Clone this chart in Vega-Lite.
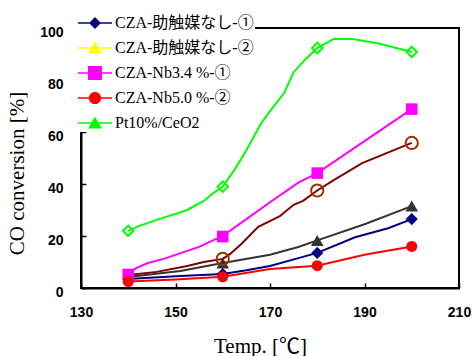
{
  "$schema": "https://vega.github.io/schema/vega-lite/v6.json",
  "width": 378,
  "height": 260,
  "autosize": {"type": "none"},
  "padding": {"left": 81, "top": 28, "right": 13, "bottom": 68},
  "background": "white",
  "datasets": {
    "lines": [
      {"s": "Pt10%/CeO2", "t": 140, "v": 22},
      {"s": "Pt10%/CeO2", "t": 142.5, "v": 24},
      {"s": "Pt10%/CeO2", "t": 146.5, "v": 26.5},
      {"s": "Pt10%/CeO2", "t": 150, "v": 28.5},
      {"s": "Pt10%/CeO2", "t": 152.5, "v": 30},
      {"s": "Pt10%/CeO2", "t": 156, "v": 33.5},
      {"s": "Pt10%/CeO2", "t": 158, "v": 36.5},
      {"s": "Pt10%/CeO2", "t": 160, "v": 39},
      {"s": "Pt10%/CeO2", "t": 162.5, "v": 45.5},
      {"s": "Pt10%/CeO2", "t": 165, "v": 53},
      {"s": "Pt10%/CeO2", "t": 168, "v": 63},
      {"s": "Pt10%/CeO2", "t": 170, "v": 68},
      {"s": "Pt10%/CeO2", "t": 173, "v": 75},
      {"s": "Pt10%/CeO2", "t": 175, "v": 83},
      {"s": "Pt10%/CeO2", "t": 177.5, "v": 88},
      {"s": "Pt10%/CeO2", "t": 180, "v": 92.3},
      {"s": "Pt10%/CeO2", "t": 183.5, "v": 95.8},
      {"s": "Pt10%/CeO2", "t": 187.5, "v": 95.8},
      {"s": "Pt10%/CeO2", "t": 193, "v": 94},
      {"s": "Pt10%/CeO2", "t": 200, "v": 90.8},
      {"s": "CZA-Nb3.4 %-①", "t": 140, "v": 5},
      {"s": "CZA-Nb3.4 %-①", "t": 141.5, "v": 7.5},
      {"s": "CZA-Nb3.4 %-①", "t": 144, "v": 9.5},
      {"s": "CZA-Nb3.4 %-①", "t": 148, "v": 11.5},
      {"s": "CZA-Nb3.4 %-①", "t": 152, "v": 14},
      {"s": "CZA-Nb3.4 %-①", "t": 155, "v": 15.8},
      {"s": "CZA-Nb3.4 %-①", "t": 160, "v": 20},
      {"s": "CZA-Nb3.4 %-①", "t": 165, "v": 26.5},
      {"s": "CZA-Nb3.4 %-①", "t": 170, "v": 33},
      {"s": "CZA-Nb3.4 %-①", "t": 176, "v": 40.5},
      {"s": "CZA-Nb3.4 %-①", "t": 180, "v": 44.2},
      {"s": "CZA-Nb3.4 %-①", "t": 200, "v": 68.8},
      {"s": "CZA-Nb3.4 %-②", "t": 140, "v": 5},
      {"s": "CZA-Nb3.4 %-②", "t": 146, "v": 6.2},
      {"s": "CZA-Nb3.4 %-②", "t": 152.5, "v": 8.5},
      {"s": "CZA-Nb3.4 %-②", "t": 156, "v": 10},
      {"s": "CZA-Nb3.4 %-②", "t": 160, "v": 11.2},
      {"s": "CZA-Nb3.4 %-②", "t": 161.5, "v": 13},
      {"s": "CZA-Nb3.4 %-②", "t": 164, "v": 17},
      {"s": "CZA-Nb3.4 %-②", "t": 167.5, "v": 23.5},
      {"s": "CZA-Nb3.4 %-②", "t": 172, "v": 27.5},
      {"s": "CZA-Nb3.4 %-②", "t": 175, "v": 32},
      {"s": "CZA-Nb3.4 %-②", "t": 177, "v": 33.5},
      {"s": "CZA-Nb3.4 %-②", "t": 180, "v": 37.5},
      {"s": "CZA-Nb3.4 %-②", "t": 183.5, "v": 41.5},
      {"s": "CZA-Nb3.4 %-②", "t": 189.5, "v": 48},
      {"s": "CZA-Nb3.4 %-②", "t": 193.5, "v": 51},
      {"s": "CZA-Nb3.4 %-②", "t": 200, "v": 55.8},
      {"s": "CZA-助触媒なし-②", "t": 140, "v": 4.2},
      {"s": "CZA-助触媒なし-②", "t": 151, "v": 6.5},
      {"s": "CZA-助触媒なし-②", "t": 160, "v": 9.6},
      {"s": "CZA-助触媒なし-②", "t": 170, "v": 12.8},
      {"s": "CZA-助触媒なし-②", "t": 176, "v": 15.8},
      {"s": "CZA-助触媒なし-②", "t": 180, "v": 18.3},
      {"s": "CZA-助触媒なし-②", "t": 190, "v": 24.5},
      {"s": "CZA-助触媒なし-②", "t": 200, "v": 31.5},
      {"s": "CZA-助触媒なし-①", "t": 140, "v": 3.5},
      {"s": "CZA-助触媒なし-①", "t": 150, "v": 4.5},
      {"s": "CZA-助触媒なし-①", "t": 160, "v": 5.4},
      {"s": "CZA-助触媒なし-①", "t": 165, "v": 6.8},
      {"s": "CZA-助触媒なし-①", "t": 170, "v": 8.5},
      {"s": "CZA-助触媒なし-①", "t": 176, "v": 11.5},
      {"s": "CZA-助触媒なし-①", "t": 180, "v": 13.5},
      {"s": "CZA-助触媒なし-①", "t": 188, "v": 19.5},
      {"s": "CZA-助触媒なし-①", "t": 195, "v": 23},
      {"s": "CZA-助触媒なし-①", "t": 200, "v": 26.5},
      {"s": "CZA-Nb5.0 %-②", "t": 140, "v": 2.5},
      {"s": "CZA-Nb5.0 %-②", "t": 150, "v": 3.3},
      {"s": "CZA-Nb5.0 %-②", "t": 160, "v": 4.3},
      {"s": "CZA-Nb5.0 %-②", "t": 170, "v": 7.3},
      {"s": "CZA-Nb5.0 %-②", "t": 180, "v": 8.6},
      {"s": "CZA-Nb5.0 %-②", "t": 190, "v": 12.8},
      {"s": "CZA-Nb5.0 %-②", "t": 200, "v": 16}
    ],
    "filledMarkers": [
      {"s": "CZA-助触媒なし-②", "t": 160, "v": 9.6},
      {"s": "CZA-助触媒なし-②", "t": 180, "v": 18.3},
      {"s": "CZA-助触媒なし-②", "t": 200, "v": 31.5},
      {"s": "CZA-助触媒なし-①", "t": 140, "v": 3.5},
      {"s": "CZA-助触媒なし-①", "t": 160, "v": 5.4},
      {"s": "CZA-助触媒なし-①", "t": 180, "v": 13.5},
      {"s": "CZA-助触媒なし-①", "t": 200, "v": 26.5},
      {"s": "CZA-Nb3.4 %-①", "t": 140, "v": 5.2},
      {"s": "CZA-Nb3.4 %-①", "t": 160, "v": 19.8},
      {"s": "CZA-Nb3.4 %-①", "t": 180, "v": 44.2},
      {"s": "CZA-Nb3.4 %-①", "t": 200, "v": 68.8},
      {"s": "CZA-Nb5.0 %-②", "t": 140, "v": 2.5},
      {"s": "CZA-Nb5.0 %-②", "t": 160, "v": 4.3},
      {"s": "CZA-Nb5.0 %-②", "t": 180, "v": 8.6},
      {"s": "CZA-Nb5.0 %-②", "t": 200, "v": 16}
    ],
    "openMarkers": [
      {"s": "CZA-Nb3.4 %-②", "t": 160, "v": 11.2},
      {"s": "CZA-Nb3.4 %-②", "t": 180, "v": 37.5},
      {"s": "CZA-Nb3.4 %-②", "t": 200, "v": 55.8},
      {"s": "Pt10%/CeO2", "t": 140, "v": 22},
      {"s": "Pt10%/CeO2", "t": 160, "v": 39},
      {"s": "Pt10%/CeO2", "t": 180, "v": 92.3},
      {"s": "Pt10%/CeO2", "t": 200, "v": 90.8}
    ],
    "legendEntries": [
      {"e": "CZA-助触媒なし-①"},
      {"e": "CZA-助触媒なし-②"},
      {"e": "CZA-Nb3.4 %-①"},
      {"e": "CZA-Nb5.0 %-②"},
      {"e": "Pt10%/CeO2"}
    ]
  },
  "layer": [
    {
      "data": {"name": "lines"},
      "mark": {"type": "line", "strokeWidth": 2},
      "encoding": {
        "x": {"field": "t", "type": "quantitative", "title": "Temp. [℃]", "scale": {"domain": [130, 210], "nice": false, "zero": false}, "axis": {"values": [130, 150, 170, 190, 210], "titleX": 179}},
        "y": {"field": "v", "type": "quantitative", "title": "CO conversion [%]", "scale": {"domain": [0, 100], "nice": false}, "axis": {"values": [0, 20, 40, 60, 80, 100], "titleY": 145}},
        "color": {"field": "s", "type": "nominal", "legend": null,
          "scale": {"domain": ["CZA-助触媒なし-①", "CZA-助触媒なし-②", "CZA-Nb3.4 %-①", "CZA-Nb3.4 %-②", "CZA-Nb5.0 %-②", "Pt10%/CeO2"],
                    "range": ["#000080", "#333333", "#FF00FF", "#800000", "#FF0000", "#00FF00"]}}
      }
    },
    {
      "data": {"name": "filledMarkers"},
      "mark": {"type": "point", "filled": true, "opacity": 1},
      "encoding": {
        "x": {"field": "t", "type": "quantitative", "title": "Temp. [℃]", "scale": {"domain": [130, 210], "nice": false, "zero": false}, "axis": {"values": [130, 150, 170, 190, 210], "titleX": 179}},
        "y": {"field": "v", "type": "quantitative", "title": "CO conversion [%]", "scale": {"domain": [0, 100], "nice": false}, "axis": {"values": [0, 20, 40, 60, 80, 100], "titleY": 145}},
        "color": {"field": "s", "type": "nominal", "legend": null,
          "scale": {"domain": ["CZA-助触媒なし-②", "CZA-助触媒なし-①", "CZA-Nb3.4 %-①", "CZA-Nb5.0 %-②"],
                    "range": ["#333333", "#000080", "#FF00FF", "#FF0000"]}},
        "shape": {"field": "s", "type": "nominal", "legend": null,
          "scale": {"domain": ["CZA-助触媒なし-②", "CZA-助触媒なし-①", "CZA-Nb3.4 %-①", "CZA-Nb5.0 %-②"],
                    "range": ["triangle-up", "diamond", "square", "circle"]}},
        "size": {"field": "s", "type": "ordinal", "legend": null,
          "scale": {"domain": ["CZA-助触媒なし-②", "CZA-助触媒なし-①", "CZA-Nb3.4 %-①", "CZA-Nb5.0 %-②"],
                    "range": [160, 121, 196, 165]}}
      }
    },
    {
      "data": {"name": "openMarkers"},
      "mark": {"type": "point", "filled": false, "strokeWidth": 2, "opacity": 1},
      "encoding": {
        "x": {"field": "t", "type": "quantitative", "title": "Temp. [℃]", "scale": {"domain": [130, 210], "nice": false, "zero": false}, "axis": {"values": [130, 150, 170, 190, 210], "titleX": 179}},
        "y": {"field": "v", "type": "quantitative", "title": "CO conversion [%]", "scale": {"domain": [0, 100], "nice": false}, "axis": {"values": [0, 20, 40, 60, 80, 100], "titleY": 145}},
        "color": {"field": "s", "type": "nominal", "legend": null,
          "scale": {"domain": ["CZA-Nb3.4 %-②", "Pt10%/CeO2"], "range": ["#993300", "#00FF00"]}},
        "shape": {"field": "s", "type": "nominal", "legend": null,
          "scale": {"domain": ["CZA-Nb3.4 %-②", "Pt10%/CeO2"], "range": ["circle", "diamond"]}},
        "size": {"field": "s", "type": "ordinal", "legend": null,
          "scale": {"domain": ["CZA-Nb3.4 %-②", "Pt10%/CeO2"], "range": [150, 110]}}
      }
    },
    {
      "data": {"name": "legendEntries"},
      "mark": {"type": "point", "filled": true, "opacity": 0},
      "encoding": {
        "color": {"field": "e", "type": "nominal",
          "scale": {"domain": ["CZA-助触媒なし-①", "CZA-助触媒なし-②", "CZA-Nb3.4 %-①", "CZA-Nb5.0 %-②", "Pt10%/CeO2"],
                    "range": ["#000080", "#FFFF00", "#FF00FF", "#FF0000", "#00FF00"]},
          "legend": {"title": null, "orient": "none", "legendX": -4, "legendY": -23}},
        "shape": {"field": "e", "type": "nominal",
          "scale": {"domain": ["CZA-助触媒なし-①", "CZA-助触媒なし-②", "CZA-Nb3.4 %-①", "CZA-Nb5.0 %-②", "Pt10%/CeO2"],
                    "range": [
                      "M-1,-0.045H1V0.045H-1ZM0,-0.35L0.35,0L0,0.35L-0.35,0Z",
                      "M-1,-0.045H1V0.045H-1ZM0,-0.38L0.41,0.32L-0.41,0.32Z",
                      "M-1,-0.045H1V0.045H-1ZM-0.41,-0.41H0.41V0.41H-0.41Z",
                      "M-1,-0.045H1V0.045H-1ZM-0.36,0A0.36,0.36,0,1,1,0.36,0A0.36,0.36,0,1,1,-0.36,0Z",
                      "M-1,-0.045H1V0.045H-1ZM0,-0.38L0.41,0.32L-0.41,0.32Z"
                    ]},
          "legend": {"title": null, "orient": "none", "legendX": -4, "legendY": -23}}
      }
    }
  ],
  "resolve": {"scale": {"color": "independent", "shape": "independent", "size": "independent"}},
  "config": {
    "view": {"stroke": "black", "strokeWidth": 2},
    "axis": {
      "domainColor": "black", "domainWidth": 2,
      "tickColor": "black", "tickWidth": 1.5, "tickSize": -5,
      "labelFont": "Liberation Sans", "labelFontWeight": "bold", "labelFontSize": 14, "labelColor": "black",
      "titleFont": "Liberation Serif, Noto Sans CJK JP", "titleFontWeight": "normal", "titleFontSize": 21, "titleColor": "black",
      "grid": false, "labelFlush": false, "labelOverlap": false
    },
    "axisX": {"labelPadding": 22, "titlePadding": 16},
    "axisY": {"labelPadding": 23, "labelOffset": 4, "titlePadding": 12},
    "legend": {
      "symbolSize": 1156, "symbolStrokeWidth": 0, "symbolOpacity": 1,
      "labelFont": "Liberation Serif, Noto Sans CJK JP", "labelFontSize": 16, "labelColor": "black",
      "labelOffset": 3, "labelLimit": 400, "fillColor": "white", "padding": 1, "rowPadding": -2
    }
  }
}
